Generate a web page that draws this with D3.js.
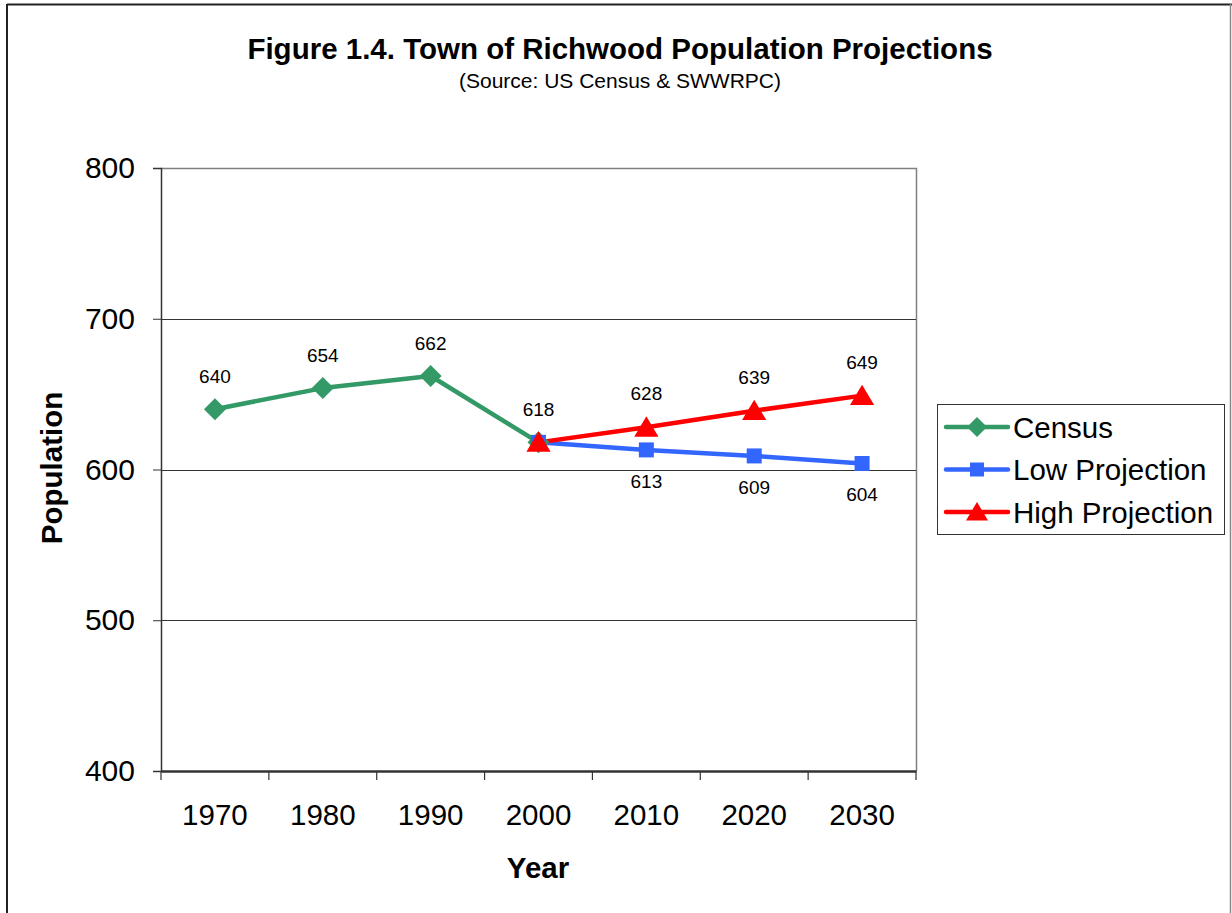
<!DOCTYPE html>
<html><head><meta charset="utf-8">
<script src="https://cdn.jsdelivr.net/npm/d3@7"></script>
<style>body{margin:0;background:#fff}svg{display:block;font-family:Arial,"Liberation Sans",sans-serif}</style>
</head><body><svg id="c" width="1232" height="913"></svg>
<script>
const years = ["1970","1980","1990","2000","2010","2020","2030"];
const censusYears = ["1970","1980","1990","2000"];
const censusValues = [640,654,662,618];
const lowYears = ["2000","2010","2020","2030"];
const lowValues = [618,613,609,604];
const highYears = ["2000","2010","2020","2030"];
const highValues = [618,628,639,649];
const yTicks = [400,500,600,700,800];
const seriesNames = ["Census","Low Projection","High Projection"];
const colors = ["#339966","#3366FF","#FF0000"];

const svg = d3.select("#c");
const L=161,T=168,R=916,B=771;
const x = d3.scaleBand().domain(years).range([L,R]);
const y = d3.scaleLinear().domain([400,800]).range([B,T]);

// outer frame
svg.append("line").attr("x1",7).attr("x2",1232).attr("y1",4.5).attr("y2",4.5).attr("stroke","#222").attr("stroke-width",2);
svg.append("line").attr("x1",7).attr("x2",7).attr("y1",4).attr("y2",913).attr("stroke","#222").attr("stroke-width",2);
svg.append("line").attr("x1",1230.5).attr("x2",1230.5).attr("y1",4).attr("y2",913).attr("stroke","#888").attr("stroke-width",1.5);

svg.append("text").attr("x",620).attr("y",59).attr("text-anchor","middle").attr("font-weight","bold").attr("font-size",29.5).text("Figure 1.4. Town of Richwood Population Projections");
svg.append("text").attr("x",620).attr("y",88).attr("text-anchor","middle").attr("font-size",21).text("(Source: US Census & SWWRPC)");

// plot border top/right
svg.append("path").attr("d",`M${L},${T+0.5}H${R+0.5}V${B}`).attr("fill","none").attr("stroke","#808080").attr("stroke-width",1.5);
// gridlines
svg.append("g").selectAll("line").data([500,600,700]).join("line")
  .attr("x1",L).attr("x2",R).attr("y1",d=>Math.round(y(d))+0.5).attr("y2",d=>Math.round(y(d))+0.5).attr("stroke","#333").attr("stroke-width",1);

// y axis
const ya = svg.append("g").attr("transform",`translate(${L},0)`).call(d3.axisLeft(y).tickValues(yTicks).tickSize(8).tickPadding(18).tickFormat(d3.format("d")));
ya.select(".domain").attr("stroke","#333").attr("stroke-width",1.5);
ya.selectAll(".tick line").attr("stroke","#333");
ya.selectAll(".tick text").attr("font-size",30).attr("font-family","Arial,'Liberation Sans',sans-serif").attr("fill","#000");

// x axis
const xa = svg.append("g").attr("transform",`translate(0,${B})`).call(d3.axisBottom(x).tickSize(0).tickPadding(33));
xa.select(".domain").attr("stroke","#333").attr("stroke-width",2.5);
xa.selectAll(".tick text").attr("font-size",29.5).attr("font-family","Arial,'Liberation Sans',sans-serif").attr("fill","#000");
const bounds = years.map(d=>x(d)).concat([R]);
svg.append("g").selectAll("line").data(bounds).join("line")
  .attr("x1",d=>d).attr("x2",d=>d).attr("y1",B).attr("y2",B+9).attr("stroke","#333").attr("stroke-width",1.2);

svg.append("text").attr("x",538).attr("y",878).attr("text-anchor","middle").attr("font-weight","bold").attr("font-size",29.5).text("Year");
svg.append("text").attr("transform","translate(62,468) rotate(-90)").attr("text-anchor","middle").attr("font-weight","bold").attr("font-size",29.5).text("Population");

const cx = d=>x(d)+x.bandwidth()/2;
const line = d3.line().x(d=>cx(d[0])).y(d=>y(d[1]));
const census = censusYears.map((d,i)=>[d,censusValues[i]]);
const low = lowYears.map((d,i)=>[d,lowValues[i]]);
const high = highYears.map((d,i)=>[d,highValues[i]]);

function drawLine(data,color){
  svg.append("path").datum(data).attr("d",line).attr("fill","none").attr("stroke",color).attr("stroke-width",4.5).attr("stroke-linejoin","round");
}
drawLine(census,colors[0]);
drawLine(low,colors[1]);
drawLine(high,colors[2]);

const diamond = (s)=>`M0,${-s}L${s},0L0,${s}L${-s},0Z`;
const square = (s)=>`M${-s},${-s}H${s}V${s}H${-s}Z`;
const tri = (s)=>`M0,${-s}L${s*1.1},${s*0.85}L${-s*1.1},${s*0.85}Z`;

svg.append("g").selectAll("path").data(census).join("path").attr("d",diamond(11)).attr("fill",colors[0])
  .attr("transform",d=>`translate(${cx(d[0])},${y(d[1])})`);
svg.append("g").selectAll("path").data(low).join("path").attr("d",square(7.5)).attr("fill",colors[1])
  .attr("transform",d=>`translate(${cx(d[0])},${y(d[1])})`);
svg.append("g").selectAll("path").data(high).join("path").attr("d",tri(11)).attr("fill",colors[2])
  .attr("transform",d=>`translate(${cx(d[0])},${y(d[1])})`);

const lab = (data,dy)=>svg.append("g").selectAll("text").data(data).join("text")
  .attr("x",d=>cx(d[0])).attr("y",d=>y(d[1])+dy).attr("text-anchor","middle").attr("font-size",19).text(d=>d[1]);
lab(census,-26);
lab(low.slice(1),38);
lab(high.slice(1),-27);

// legend
const lg = svg.append("g");
lg.append("rect").attr("x",937.5).attr("y",404.5).attr("width",287).attr("height",130).attr("fill","#fff").attr("stroke","#333").attr("stroke-width",1);
const mk = [diamond(10),square(7),tri(10)];
seriesNames.forEach((n,i)=>{
  const yy = 427 + i*42.5;
  lg.append("line").attr("x1",946).attr("x2",1008).attr("y1",yy).attr("y2",yy).attr("stroke",colors[i]).attr("stroke-width",4.5).attr("stroke-linecap","round");
  lg.append("path").attr("d",mk[i]).attr("fill",colors[i]).attr("transform",`translate(977,${yy})`);
  lg.append("text").attr("x",1013).attr("y",yy+10.5).attr("font-size",29.5).text(n);
});
</script></body></html>
